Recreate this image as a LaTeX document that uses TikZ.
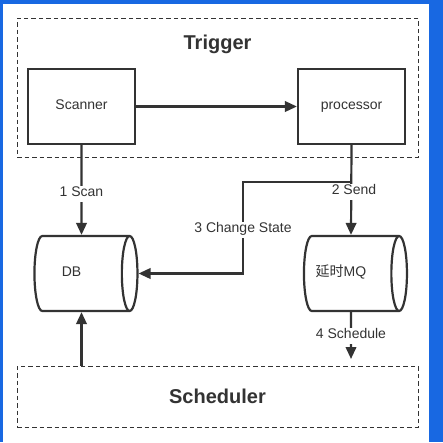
\documentclass[tikz,border=0pt]{standalone}
\usepackage{fontspec}
\setmainfont{Liberation Sans}
\newfontfamily\cjk{Noto Sans CJK SC}
\usetikzlibrary{arrows.meta,shapes.geometric,positioning}
\definecolor{frameblue}{RGB}{24,104,226}
\definecolor{ink}{RGB}{51,51,51}
\tikzset{
  box/.style = {draw=ink, line width=2.2pt, text=ink, font=\fontsize{14}{16}\selectfont,
    minimum width=107pt, minimum height=75pt, inner sep=0pt,
    text height=9pt, text depth=4pt},
  store/.style = {box, cylinder, aspect=1.2, minimum width=75pt, minimum height=103pt},
  group/.style = {draw=ink, dashed, dash pattern=on 4.5pt off 3pt, line width=0.9pt,
    minimum width=401pt, inner sep=0pt},
  title/.style = {text=ink, font=\fontsize{20}{22}\selectfont\bfseries},
  lbl/.style = {fill=white, text=ink, inner sep=1.5pt, font=\fontsize{14}{16}\selectfont,
    text height=9pt, text depth=4pt},
  link/.style = {draw=ink, line width=2.2pt, -{Triangle[length=12pt,width=10.5pt]}}
}

\begin{document}
\begin{tikzpicture}[x=1pt, y=-1pt]
    % frame
    \fill[frameblue] (0,0) rectangle (443,442);
    \fill[white] (3,4) rectangle (429,442);
    \useasboundingbox (0,0) rectangle (443,442);

    % groups
    \node [group, minimum height=139pt] (trigger) at (217.5,87.5) {};
    \node [title] (triggername) at (217.5,44) {Trigger};
    \node [group, minimum height=61pt] (scheduler) at (217.5,396.5) {};
    \node [title] at (scheduler) {Scheduler};

    % components
    \node [box] (scanner) at (81.5,106.5) {Scanner};
    \node [box] (processor) at (351.5,106.5) {processor};
    \node [store] (db) at (81.5,273.5) {DB\hspace*{20pt}};
    \node [store] (mq) at (351,273.5) {{\cjk 延时}MQ\hspace*{20pt}};

    % connectors
    \coordinate (fork) at (processor.south |- 0,182);
    \coordinate (bend) at (243,182);
    \coordinate (drop) at (351,359);
    \draw [link] (scanner) -- (processor);
    \draw [link] (scanner.south) -- node [lbl, pos=0.55] {1 Scan} (db.north);
    \draw [link] (processor.south) -- (mq.north |- db.north);
    \node [lbl] at (354,192) {2 Send};
    \draw [link] (fork) -- (bend) -- node [lbl, pos=0.52] {3 Change State} (bend |- db.east) -- (db.east);
    \draw [link] (mq.south) -- node [lbl, pos=0.5] {4 Schedule} (drop);
    \draw [link] (scheduler.north -| db.south) -- (db.south);
\end{tikzpicture}
\end{document}
